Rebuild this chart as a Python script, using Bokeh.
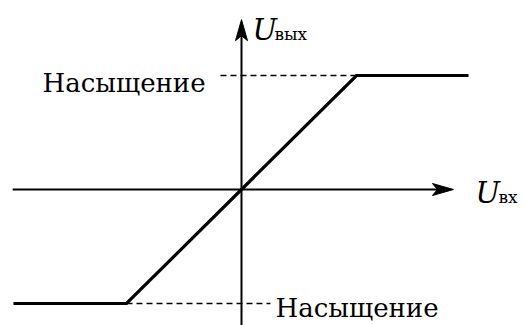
from bokeh.plotting import figure
from bokeh.models import Range1d
from bokeh.core.properties import value
from bokeh.embed import file_html
from bokeh.resources import INLINE

# Characteristic: linear region with saturation
curve_x = [-1.983, -1.0, 1.0, 1.974]
curve_y = [-1.0, -1.0, 1.0, 1.0]
sat_level = 1.0
sat_label = "Насыщение"
x_label_main, x_label_sub = "U", "вх"
y_label_main, y_label_sub = "U", "вых"

# scale: pixels per data unit
SX, SY = 115.0, 114.0
W, H = 524, 325
OX, OY = 241.0, 189.0

p = figure(width=W, height=H, output_backend="svg", toolbar_location=None,
           x_range=Range1d((0 - OX) / SX, (W - OX) / SX),
           y_range=Range1d((OY - H) / SY, (OY - 0) / SY),
           min_border=0)
p.axis.visible = False
p.grid.visible = False
p.outline_line_color = None
p.background_fill_color = "white"

# axes
x_ax_start, x_ax_end = -1.99, 1.843
y_ax_start, y_ax_end = -1.3, 1.49
p.line([x_ax_start, x_ax_end - 4 / SX], [0, 0], line_color="black", line_width=2)
p.line([0, 0], [y_ax_start, y_ax_end - 4 / SY], line_color="black", line_width=2)

# arrow heads (sizes in pixels converted to data units)
hl, hw, notch = 21.0, 6.0, 16.0
p.patch([x_ax_end, x_ax_end - hl / SX, x_ax_end - notch / SX, x_ax_end - hl / SX],
        [0, hw / SY, 0, -hw / SY], fill_color="black", line_color="black", line_width=1)
p.patch([0, hw / SX, 0, -hw / SX],
        [y_ax_end, y_ax_end - hl / SY, y_ax_end - notch / SY, y_ax_end - hl / SY],
        fill_color="black", line_color="black", line_width=1)

# dashed saturation guides
p.line([-0.183, curve_x[2]], [sat_level, sat_level], line_color="black",
       line_width=1.5, line_dash="6 4")
p.line([curve_x[1], 0.252], [-sat_level, -sat_level], line_color="black",
       line_width=1.5, line_dash="6 4")

# characteristic curve
p.line(curve_x, curve_y, line_color="black", line_width=3.2, line_join="miter")

font = value("DejaVu Serif")
# saturation labels
p.text(x=[-1.730, 0.296], y=[0.930, -1.040], text=[sat_label, sat_label],
       text_font=font, text_font_size="26px", text_color="black",
       text_baseline="alphabetic", text_align="left")

# axis labels
p.text(x=[0.096, 2.035], y=[1.395, -0.035], text=[y_label_main, x_label_main],
       text_font=font, text_font_size="29px", text_font_style="italic",
       text_color="black", text_baseline="alphabetic", text_align="left")
p.text(x=[0.287, 2.235], y=[1.368, -0.070], text=[y_label_sub, x_label_sub],
       text_font=font, text_font_size="17px", text_color="black",
       text_baseline="alphabetic", text_align="left")

open("out.html", "w").write(file_html(p, INLINE))
